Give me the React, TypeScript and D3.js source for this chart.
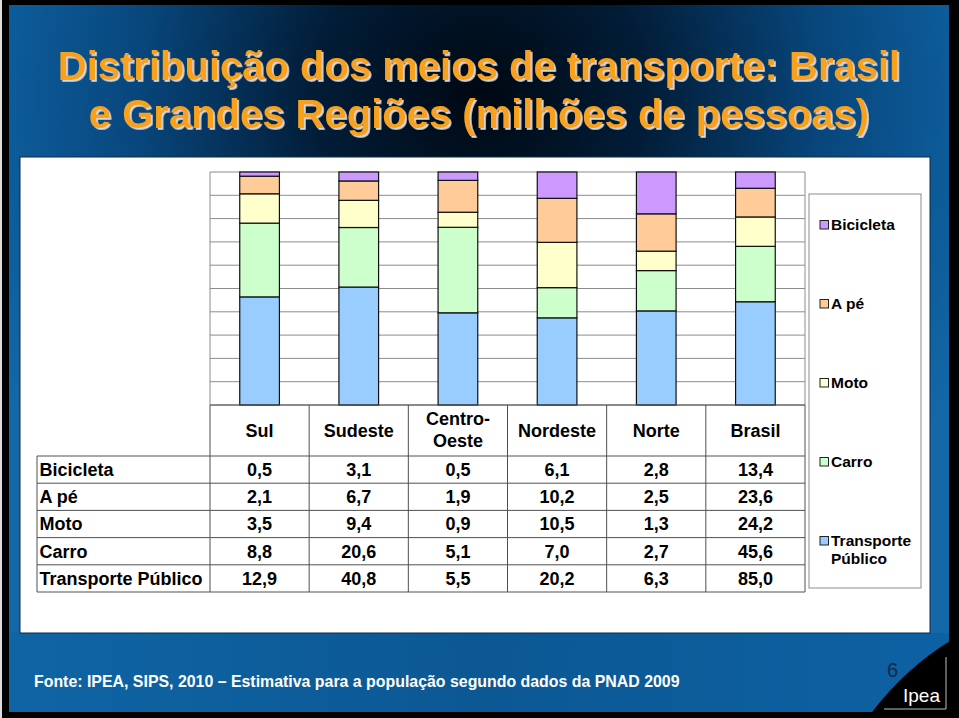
import React from "react";
import * as d3 from "d3";

const categories = ["Sul", "Sudeste", "Centro-Oeste", "Nordeste", "Norte", "Brasil"];
const headerLabels = [["Sul"], ["Sudeste"], ["Centro-", "Oeste"], ["Nordeste"], ["Norte"], ["Brasil"]];
const seriesNames = ["Bicicleta", "A pé", "Moto", "Carro", "Transporte Público"];
const bicicleta = [0.5, 3.1, 0.5, 6.1, 2.8, 13.4];
const aPe = [2.1, 6.7, 1.9, 10.2, 2.5, 23.6];
const moto = [3.5, 9.4, 0.9, 10.5, 1.3, 24.2];
const carro = [8.8, 20.6, 5.1, 7.0, 2.7, 45.6];
const transportePublico = [12.9, 40.8, 5.5, 20.2, 6.3, 85.0];
const seriesColors = ["#CC99FF", "#FFCC99", "#FFFFCC", "#CCFFCC", "#99CCFF"];
const yTicks = [0, 0.1, 0.2, 0.3, 0.4, 0.5, 0.6, 0.7, 0.8, 0.9, 1];
const titleLines = ["Distribuição dos meios de transporte: Brasil", "e Grandes Regiões (milhões de pessoas)"];
const footerText = "Fonte: IPEA, SIPS, 2010 – Estimativa para a população segundo dados da PNAD 2009";

const W = 959;
const H = 718;
const FONT = "'Liberation Sans', Arial, Helvetica, sans-serif";

export default function App() {
  const seriesValues = [bicicleta, aPe, moto, carro, transportePublico];
  const rows = categories.map((c, i) => {
    const o: any = { cat: c };
    seriesNames.forEach((s, k) => (o[s] = seriesValues[k][i]));
    return o;
  });
  const stackKeys = [...seriesNames].reverse(); // bottom-up
  const stacked = d3.stack<any>().keys(stackKeys).offset(d3.stackOffsetExpand)(rows);

  const plotL = 210, plotR = 805, plotT = 172, plotB = 405;
  const xBar = d3.scaleBand<string>().domain(categories).range([plotL, plotR]).paddingInner(0.6).paddingOuter(0.3);
  const xCol = d3.scaleBand<string>().domain(categories).range([plotL, plotR]).padding(0);
  const y = d3.scaleLinear().domain([0, 1]).range([plotB, plotT]);

  const tableL = 37, headerB = 456, tableB = 592;
  const yRow = d3.scaleBand<string>().domain(seriesNames).range([headerB, tableB]);
  const fmt = (v: number) => d3.format(".1f")(v).replace(".", ",");
  const colorOf = (s: string) => seriesColors[seriesNames.indexOf(s)];

  const legendY = d3.scalePoint<string>().domain(seriesNames).range([230, 546]);

  return (
    <div style={{ position: "absolute", left: 0, top: 0 }}>
      <svg width={W} height={H} style={{ display: "block" }}>
        <defs>
          <radialGradient id="bg" gradientUnits="userSpaceOnUse" cx={480} cy={95} r={560}>
            <stop offset="0" stopColor="#000812" />
            <stop offset="0.3" stopColor="#021d38" />
            <stop offset="0.62" stopColor="#08477d" />
            <stop offset="0.85" stopColor="#0d5c9a" />
            <stop offset="1" stopColor="#1468a8" />
          </radialGradient>
          <linearGradient id="bottomBand" x1="0" x2="1" y1="0" y2="0">
            <stop offset="0" stopColor="#0f64a4" />
            <stop offset="0.5" stopColor="#0a5590" />
            <stop offset="1" stopColor="#0c60a2" />
          </linearGradient>
          <filter id="titleShadow" x="-5%" y="-20%" width="110%" height="140%">
            <feDropShadow dx={1.8} dy={1.8} stdDeviation={0.3} floodColor="#d8d8d8" floodOpacity={1} />
          </filter>
        </defs>
        <rect x={0} y={0} width={W} height={H} fill="#000" />
        <rect x={0} y={0} width={2} height={H} fill="#ddd" />
        <rect x={9} y={5} width={940} height={707} fill="url(#bg)" />
        <rect x={9} y={633} width={940} height={79} fill="url(#bottomBand)" opacity={0.85} />

        <g fontFamily={FONT} fontWeight="bold" fontSize={40} textAnchor="middle" fill="#F7A11A" filter="url(#titleShadow)">
          {titleLines.map((t, i) => (
            <text key={t} x={479} y={80 + i * 48}>{t}</text>
          ))}
        </g>

        <rect x={20} y={157} width={910} height={476} fill="#fff" stroke="#0a2a48" strokeWidth={1} />

        {/* plot grid */}
        {yTicks.map((t) => (
          <line key={t} x1={plotL} x2={plotR} y1={y(t)} y2={y(t)} stroke="#8c8c8c" strokeWidth={1} />
        ))}
        <line x1={plotL} x2={plotL} y1={plotT} y2={plotB} stroke="#8c8c8c" />
        <line x1={plotR} x2={plotR} y1={plotT} y2={plotB} stroke="#8c8c8c" />

        {stacked.map((s) => (
          <g key={s.key} fill={colorOf(s.key)}>
            {s.map((d, i) => (
              <rect
                key={i}
                x={xBar(categories[i])}
                width={xBar.bandwidth()}
                y={y(d[1])}
                height={y(d[0]) - y(d[1])}
                stroke="#111"
                strokeWidth={1.2}
              />
            ))}
          </g>
        ))}

        {/* table */}
        <g stroke="#505050" strokeWidth={1}>
          <line x1={plotL} x2={plotR} y1={plotB} y2={plotB} />
          {[...seriesNames.map((s) => yRow(s) as number), tableB].map((yy, i) => (
            <line key={"h" + i} x1={tableL} x2={plotR} y1={yy} y2={yy} />
          ))}
          <line x1={tableL} x2={tableL} y1={headerB} y2={tableB} />
          {[...categories.map((c) => xCol(c) as number), plotR].map((xx, i) => (
            <line key={"v" + i} x1={xx} x2={xx} y1={plotB} y2={tableB} />
          ))}
        </g>
        <g fontFamily={FONT} fontWeight="bold" fontSize={18} fill="#000">
          {categories.map((c, i) => {
            const cx = (xCol(c) as number) + xCol.bandwidth() / 2;
            const lines = headerLabels[i];
            return (
              <text key={c} x={cx} textAnchor="middle">
                {lines.map((l, k) => (
                  <tspan key={k} x={cx} y={lines.length === 1 ? 437 : 425 + k * 22}>{l}</tspan>
                ))}
              </text>
            );
          })}
          {seriesNames.map((s, k) => {
            const cy = (yRow(s) as number) + yRow.bandwidth() / 2;
            return (
              <g key={s}>
                <text x={39.5} y={cy} dy="0.35em">{s}</text>
                {categories.map((c, i) => (
                  <text key={c} x={(xCol(c) as number) + xCol.bandwidth() / 2} y={cy} dy="0.35em" textAnchor="middle">
                    {fmt(seriesValues[k][i])}
                  </text>
                ))}
              </g>
            );
          })}
        </g>

        {/* legend */}
        <rect x={809} y={194} width={112} height={394} fill="#fff" stroke="#8c8c8c" />
        <g fontFamily={FONT} fontWeight="bold" fontSize={15.5} fill="#000">
          {seriesNames.map((s) => {
            const ly = legendY(s) as number;
            const parts = s === "Transporte Público" ? ["Transporte", "Público"] : [s];
            return (
              <g key={s}>
                <rect x={820} y={ly - 9.5} width={8.5} height={8.5} fill={colorOf(s)} stroke="#222" strokeWidth={1} />
                <text x={831}>
                  {parts.map((p, k) => (
                    <tspan key={k} x={831} y={ly + k * 18}>{p}</tspan>
                  ))}
                </text>
              </g>
            );
          })}
        </g>

        {/* footer */}
        <text x={34} y={687} fontFamily={FONT} fontWeight="bold" fontSize={15.9} fill="#fff">{footerText}</text>

        {/* corner logo */}
        <path d="M950,641 Q906,668 872,712 L950,712 Z" fill="#000" />
        <line x1={946} x2={946} y1={657} y2={709} stroke="#bdbdbd" strokeWidth={1} />
        <line x1={884} x2={946} y1={709} y2={709} stroke="#bdbdbd" strokeWidth={1} />
        <text x={887} y={677} fontFamily={FONT} fontSize={20} fill="#15284a">6</text>
        <text x={903} y={702} fontFamily={FONT} fontSize={19} fill="#fff">Ipea</text>
      </svg>
    </div>
  );
}
